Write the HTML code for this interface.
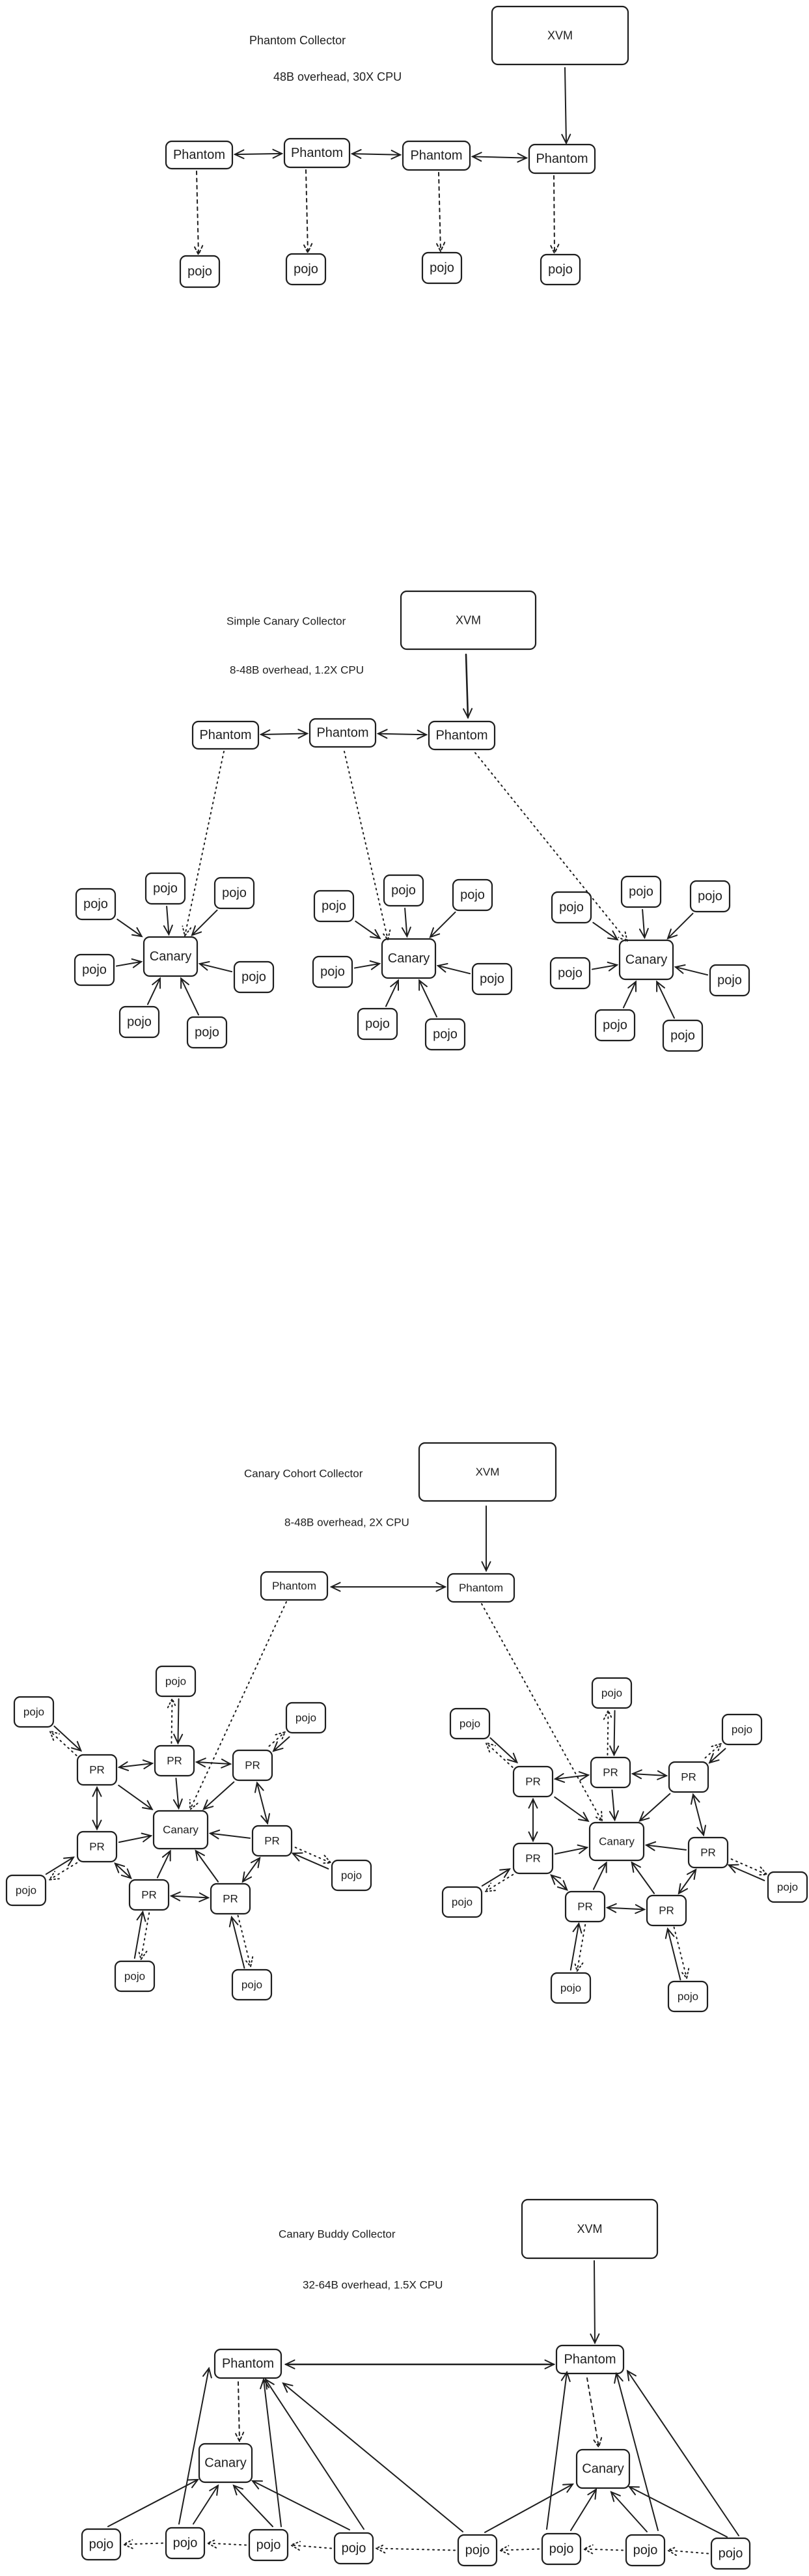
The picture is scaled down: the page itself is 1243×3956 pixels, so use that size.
<!DOCTYPE html>
<html><head><meta charset="utf-8"><style>
html,body{margin:0;padding:0;background:#fff;}
svg{display:block;}
text{font-family:"Liberation Sans",sans-serif;fill:#1e1e1e;}
</style></head><body>
<svg id="s" width="1243" height="3956" viewBox="0 0 1243 3956" xmlns="http://www.w3.org/2000/svg"></svg>
<script>
const S=document.getElementById('s');const NS='http://www.w3.org/2000/svg';
function el(n,a,t){const e=document.createElementNS(NS,n);for(const k in a)e.setAttribute(k,a[k]);if(t!==undefined)e.textContent=t;S.appendChild(e);return e;}
function txt(x,y,s,fs,anchor){el('text',{x:x,y:y,'font-size':fs,'text-anchor':anchor||'start','dominant-baseline':'central'},s);}
function box(x,y,w,h,label,fs){el('rect',{x:x,y:y,width:w,height:h,rx:9,fill:'#fff',stroke:'#1e1e1e','stroke-width':2.2});txt(x+w/2,y+h/2,label,fs||20,'middle');return {cx:x+w/2,cy:y+h/2,w:w,h:h};}
function head(x1,y1,x2,y2,dash){const a=Math.atan2(y2-y1,x2-x1),L=15,s=0.45;
 const p=(ang)=>[x2-L*Math.cos(ang),y2-L*Math.sin(ang)];const A=p(a+s),B=p(a-s);
 el('path',{d:`M${A[0]},${A[1]} L${x2},${y2} L${B[0]},${B[1]}`,fill:'none',stroke:'#1e1e1e','stroke-width':2,'stroke-dasharray':dash||'none','stroke-linecap':'round'});}
function line(x1,y1,x2,y2,o){o=o||{};const d=o.dash?(o.dot?'2 6':'5 6'):'none';
 el('line',{x1:x1,y1:y1,x2:x2,y2:y2,stroke:'#1e1e1e','stroke-width':o.w||2,'stroke-dasharray':d,'stroke-linecap':'round'});
 const hd=o.dash?(o.dot?'2 4':'4 4'):null;
 if(o.head!=='none')head(x1,y1,x2,y2,hd);if(o.both)head(x2,y2,x1,y1,hd);}
function clip(b,dx,dy){const tx=dx?(b.w/2)/Math.abs(dx):1e9,ty=dy?(b.h/2)/Math.abs(dy):1e9;const t=Math.min(tx,ty);return [b.cx+dx*t,b.cy+dy*t];}
function conn(a,b,o){o=o||{};let dx=b.cx-a.cx,dy=b.cy-a.cy;const len=Math.hypot(dx,dy),ux=dx/len,uy=dy/len;
 let p1=clip(a,dx,dy),p2=clip(b,-dx,-dy);const g=4,off=o.off||0;
 p1=[p1[0]+ux*g-uy*off,p1[1]+uy*g+ux*off];p2=[p2[0]-ux*g-uy*off,p2[1]-uy*g+ux*off];
 line(p1[0],p1[1],p2[0],p2[1],o);}

/* ===== Section 1 ===== */
txt(383,62,'Phantom Collector',18);
txt(420,118,'48B overhead, 30X CPU',18);
box(756,10,209,89,'XVM',18);
const P1=[box(255,217,102,42,'Phantom'),box(437,213,100,44,'Phantom'),box(619,217,103,44,'Phantom'),box(813,222,101,44,'Phantom')];
const J1=[box(277,393,60,48,'pojo'),box(440,390,60,47,'pojo'),box(649,388,60,47,'pojo'),box(831,391,60,46,'pojo')];
line(868,104,870,220,{});
for(let i=0;i<3;i++)conn(P1[i],P1[i+1],{both:true});
const dx1=[[302,305],[470,473],[674,677],[851,852]];
for(let i=0;i<4;i++){line(dx1[i][0],P1[i].cy+P1[i].h/2+4,dx1[i][1],J1[i].cy-J1[i].h/2-2,{dash:true});}

/* ===== Section 2 ===== */
txt(348,954,'Simple Canary Collector',17);
txt(353,1029,'8-48B overhead, 1.2X CPU',17);
box(616,908,207,89,'XVM',18);
const P2=[box(296,1108,101,42,'Phantom'),box(476,1104,101,43,'Phantom'),box(659,1108,101,43,'Phantom')];
line(716,1005,719,1102,{w:2.6});
conn(P2[0],P2[1],{both:true});conn(P2[1],P2[2],{both:true});
const rel=[[-115,-81],[-8,-105],[98,-98],[-117,20],[128,31],[-48,100],[56,116]];
const C2=[[262,1469],[628,1472],[993,1474]];
const tops=[[344,1154,284,1437],[529,1154,596,1443],[730,1156,964,1446]];
C2.forEach((c,i)=>{const cb=box(c[0]-41,c[1]-30,82,60,'Canary');
 rel.forEach(r=>{const pb=box(c[0]+r[0]-30,c[1]+r[1]-23,60,47,'pojo');conn(pb,cb,{});});
 const t=tops[i];line(t[0],t[1],t[2],t[3],{dash:true,dot:true});});

/* ===== Section 3 ===== */
txt(375,2263,'Canary Cohort Collector',17);
txt(437,2338,'8-48B overhead, 2X CPU',17);
box(644,2216,210,89,'XVM',17);
const PL=box(401,2414,102,43,'Phantom',17),PRR=box(688,2417,102,43,'Phantom',17);
line(747,2313,747,2412,{});
line(509,2437,684,2437,{both:true});
line(440,2460,292,2779,{dash:true,dot:true});
line(740,2463,925,2797,{dash:true,dot:true});
function cluster(ox,oy){
 const C=box(236+ox,2781+oy,83,58,'Canary',17);
 const prc=[[149,2718],[268,2704],[388,2711],[149,2836],[418,2827],[229,2910],[354,2916]];
 const pjc=[[52,2629],[270,2582],[470,2638],[40,2903],[540,2880],[207,3035],[387,3048]];
 const PR=prc.map(p=>box(p[0]-30+ox,p[1]-23+oy,60,46,'PR',17));
 const PJ=pjc.map(p=>box(p[0]-30+ox,p[1]-23+oy,60,46,'pojo',17));
 PR.forEach(p=>conn(p,C,{}));
 [[0,1],[1,2],[2,4],[4,6],[6,5],[5,3],[3,0]].forEach(e=>conn(PR[e[0]],PR[e[1]],{both:true}));
 for(let i=0;i<7;i++){conn(PJ[i],PR[i],{off:-5});conn(PR[i],PJ[i],{off:-5,dash:true,dot:true});}
}
cluster(0,0);cluster(670,18);

/* ===== Section 4 ===== */
txt(428,3431,'Canary Buddy Collector',17);
txt(465,3509,'32-64B overhead, 1.5X CPU',17);
box(802,3378,208,90,'XVM',18);
box(330,3608,102,44,'Phantom');box(855,3602,103,43,'Phantom');
box(306,3753,81,59,'Canary');box(886,3762,81,59,'Canary');
const J4=[[126,3884],[255,3882],[383,3885],[514,3890],[704,3893],[833,3891],[962,3893],[1093,3898]].map(p=>box(p[0],p[1],59,47,'pojo'));
line(913,3472,914,3598,{});
line(439,3631,851,3631,{both:true,w:2.4});
line(366,3658,368,3749,{dash:true});
line(902,3652,920,3758,{dash:true});
for(let i=7;i>0;i--){const a=J4[i],b=J4[i-1];line(a.cx-a.w/2-5,a.cy,b.cx+b.w/2+5,b.cy,{dash:true,dot:true});}
[[166,3880,304,3808],[275,3876,321,3637],[297,3876,335,3817],[419,3880,359,3817],[432,3880,405,3654],[537,3885,388,3810],[559,3884,408,3654],[711,3888,435,3660],
 [745,3889,880,3815],[840,3884,871,3643],[877,3886,916,3823],[994,3888,939,3827],[1011,3886,947,3645],[1117,3896,967,3819],[1135,3894,964,3641]].forEach(l=>line(l[0],l[1],l[2],l[3],{}));
</script>
</body></html>
